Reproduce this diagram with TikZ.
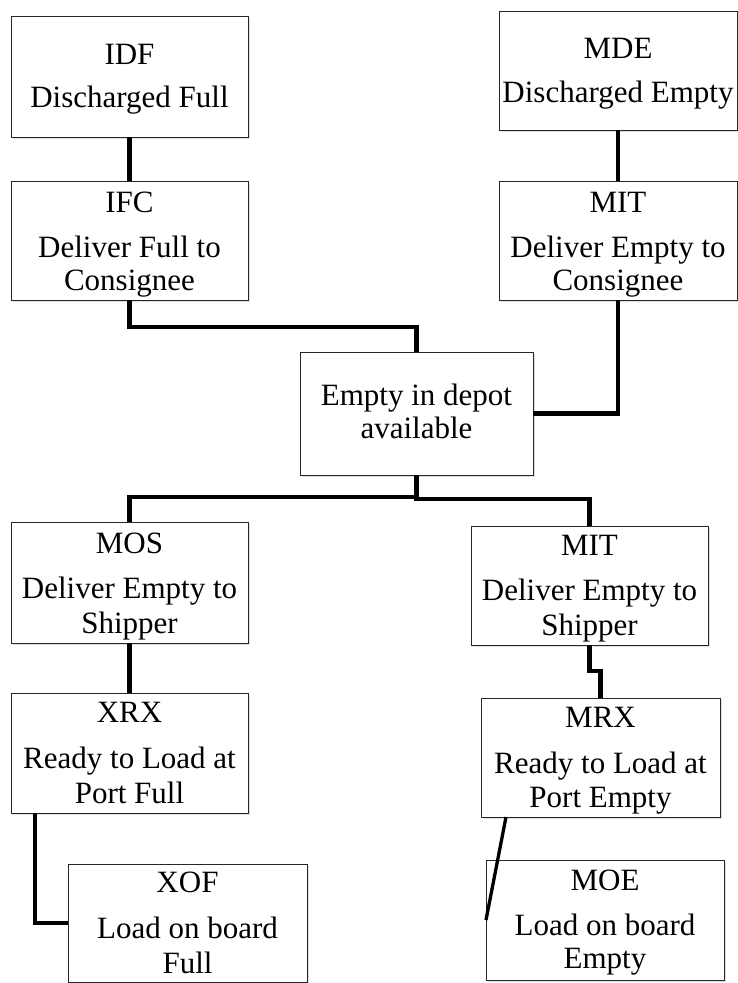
\documentclass[tikz,border=0pt]{standalone}
\usepackage{fontspec}
\setmainfont{Liberation Serif}
\usetikzlibrary{shadows}
\begin{document}
\begin{tikzpicture}[x=1pt,y=-1pt,
  box/.style={draw=black!85, line width=1pt, fill=white, inner sep=0pt, outer sep=0pt,
    drop shadow={shadow xshift=1.8pt, shadow yshift=-1.8pt, opacity=0.25, fill=black!50}},
  txt/.style={inner sep=0pt, anchor=base, text=black, font=\fontsize{31}{34}\selectfont},
  conn/.style={line width=4.2pt, black, line join=miter},
  diag/.style={line width=3.3pt, black}]
\useasboundingbox (0,0) rectangle (738,983);

% boxes
\node[box, minimum width=237pt, minimum height=121pt] (idf)  at (129.5,76.5)  {};
\node[box, minimum width=238pt, minimum height=119pt] (mde)  at (618,70.5)    {};
\node[box, minimum width=237pt, minimum height=119pt] (ifc)  at (129.5,240.5) {};
\node[box, minimum width=238pt, minimum height=119pt] (mit)  at (618,240.5)   {};
\node[box, minimum width=233pt, minimum height=123pt] (dep)  at (416.5,413.5) {};
\node[box, minimum width=237pt, minimum height=121pt] (mos)  at (129.5,582.5) {};
\node[box, minimum width=237pt, minimum height=120pt] (xrx)  at (129.5,753)   {};
\node[box, minimum width=239pt, minimum height=118pt] (xof)  at (187.5,923)   {};
\node[box, minimum width=237pt, minimum height=119pt] (mitb) at (589.5,585.5) {};
\node[box, minimum width=239pt, minimum height=119pt] (mrx)  at (600.5,757.5) {};
\node[box, minimum width=238pt, minimum height=120pt] (moe)  at (605,920)     {};

% texts
\node[txt] (idf1) at (129.5,64)  {IDF};
\node[txt] (idf2) at (129.5,107) {Discharged Full};
\node[txt] (mde1) at (618,58)    {MDE};
\node[txt] (mde2) at (618,102)   {Discharged Empty};
\node[txt] (ifc1) at (129.5,212) {IFC};
\node[txt] (ifc2) at (129.5,257) {Deliver Full to};
\node[txt] (ifc3) at (129.5,290) {Consignee};
\node[txt] (mit1) at (618,212)   {MIT};
\node[txt] (mit2) at (618,257)   {Deliver Empty to};
\node[txt] (mit3) at (618,290)   {Consignee};
\node[txt] (dep1) at (416.5,405) {Empty in depot};
\node[txt] (dep2) at (416.5,438) {available};
\node[txt] (mos1) at (129.5,553) {MOS};
\node[txt] (mos2) at (129.5,598) {Deliver Empty to};
\node[txt] (mos3) at (129.5,633) {Shipper};
\node[txt] (xrx1) at (129.5,722) {XRX};
\node[txt] (xrx2) at (129.5,768) {Ready to Load at};
\node[txt] (xrx3) at (129.5,803) {Port Full};
\node[txt] (xof1) at (187.5,892) {XOF};
\node[txt] (xof2) at (187.5,938) {Load on board};
\node[txt] (xof3) at (187.5,973) {Full};
\node[txt] (mitb1) at (589.5,555) {MIT};
\node[txt] (mitb2) at (589.5,600) {Deliver Empty to};
\node[txt] (mitb3) at (589.5,635) {Shipper};
\node[txt] (mrx1) at (600.5,727) {MRX};
\node[txt] (mrx2) at (600.5,773) {Ready to Load at};
\node[txt] (mrx3) at (600.5,807) {Port Empty};
\node[txt] (moe1) at (605,890)   {MOE};
\node[txt] (moe2) at (605,935)   {Load on board};
\node[txt] (moe3) at (605,968)   {Empty};

% bend coordinates
\coordinate (h1) at (0,327);
\coordinate (h2) at (0,497);
\coordinate (h3) at (0,499);
\coordinate (h4) at (0,671);
\coordinate (v1) at (35,0);
\coordinate (v2) at (506,0);

% connectors
\draw[conn] (idf.south) -- (ifc.north);
\draw[conn] (mde.south) -- (mit.north);
\draw[conn] (ifc.south) |- (h1 -| dep.north) -- (dep.north);
\draw[conn] (mit.south) |- (dep.east);
\draw[conn] (dep.south) -- (dep.south |- h2) -| (mos.north);
\draw[conn] (dep.south) -- (dep.south |- h3) -| (mitb.north);
\draw[conn] (mos.south) -- (xrx.north);
\draw[conn] (v1 |- xrx.south) |- (xof.west);
\draw[conn] (mitb.south) |- (h4 -| mrx.north) -- (mrx.north);
\draw[diag] (v2 |- mrx.south) -- (moe.west);
\end{tikzpicture}
\end{document}
